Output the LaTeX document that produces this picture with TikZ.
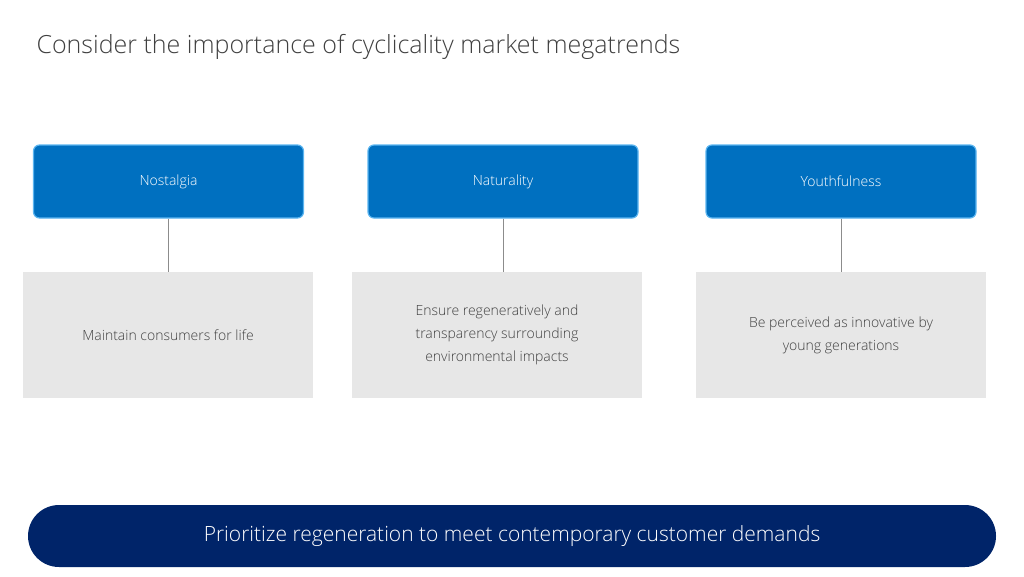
\documentclass[tikz,border=0pt]{standalone}
\usepackage{fontspec}
\setmainfont{Open Sans}[UprightFont=* Light]
\definecolor{bluebox}{HTML}{0070C0}
\definecolor{blueedge}{HTML}{5BB5F0}
\definecolor{graybox}{HTML}{E7E7E7}
\definecolor{navy}{HTML}{002469}
\definecolor{txt}{HTML}{404040}
\begin{document}
\begin{tikzpicture}[x=1pt,y=-1pt,
  topbox/.style={draw=blueedge,line width=1.2pt,fill=bluebox,rounded corners=6pt,text=white,font=\fontsize{14}{17}\selectfont},
  botbox/.style={fill=graybox,text=txt,align=center,font=\fontsize{14}{23}\selectfont},
  conn/.style={draw=gray!90,line width=0.8pt}]
\useasboundingbox (0,0) rectangle (1024,576);
\node[anchor=west,text=txt,font=\fontsize{25}{30}\selectfont] (title) at (33,47) {Consider the importance of cyclicality market megatrends};
\node[topbox,minimum width=270pt,minimum height=73pt] (t1) at (168.5,181.5) {Nostalgia};
\node[topbox,minimum width=270pt,minimum height=73pt] (t2) at (503,181.5) {Naturality};
\node[topbox,minimum width=270pt,minimum height=73pt] (t3) at (841,181.5) {Youthfulness};
\node[botbox,minimum width=290pt,minimum height=126pt] (b1) at (168,335) {Maintain consumers for life};
\node[botbox,minimum width=290pt,minimum height=126pt] (b2) at (497,335) {Ensure regeneratively and\\transparency surrounding\\environmental impacts};
\node[botbox,minimum width=290pt,minimum height=126pt] (b3) at (841,335) {Be perceived as innovative by\\young generations};
\draw[conn] (t1.south) -- (t1.south |- b1.north);
\draw[conn] (t2.south) -- (t2.south |- b2.north);
\draw[conn] (t3.south) -- (t3.south |- b3.north);
\node[fill=navy,rounded corners=31pt,minimum width=968pt,minimum height=62pt,text=white,font=\fontsize{21}{25}\selectfont] (banner) at (512,536) {Prioritize regeneration to meet contemporary customer demands};
\end{tikzpicture}
\end{document}
